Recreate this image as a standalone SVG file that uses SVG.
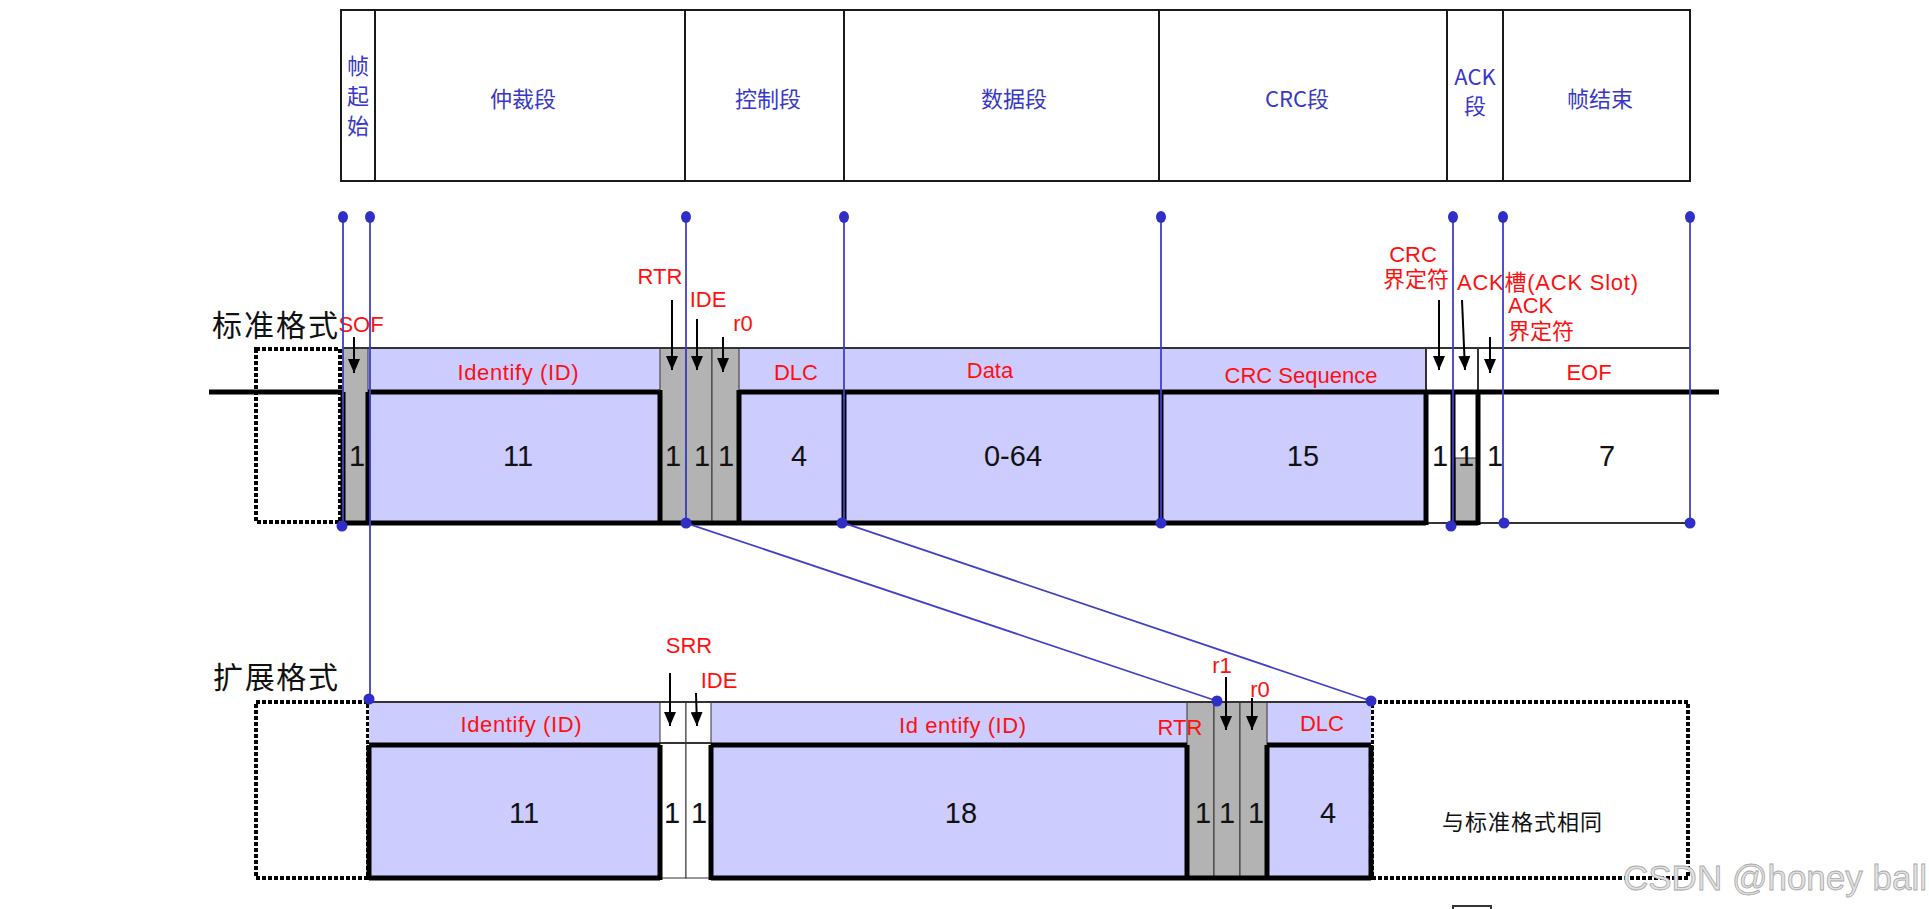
<svg xmlns="http://www.w3.org/2000/svg" width="1929" height="909" viewBox="0 0 1929 909">
<style>
.tb{fill:none;stroke:#1a1a1a;stroke-width:2}
.tt{font-family:"Noto Sans CJK SC","Liberation Sans",sans-serif;font-size:22px;fill:#3838c8;text-anchor:middle}
.lab{font-family:"Liberation Sans","Noto Sans CJK SC",sans-serif;font-size:22px;fill:#ff1010;text-anchor:middle}
.labs{font-family:"Liberation Sans","Noto Sans CJK SC",sans-serif;font-size:22px;fill:#ff1010}
.num{font-family:"Liberation Sans",Arial,sans-serif;font-size:29px;fill:#111;text-anchor:middle}
.cjk{font-family:"Noto Sans CJK SC",sans-serif;fill:#111}
.pur{fill:#ccccff;stroke:none}
.gry{fill:#b3b3b3;stroke:#333;stroke-width:1}
.wht{fill:#fff;stroke:#333;stroke-width:1}
.thk{fill:none;stroke:#000;stroke-width:5}
.thin{fill:none;stroke:#333;stroke-width:2}
.dash{fill:none;stroke:#000;stroke-width:4;stroke-dasharray:4 2}
.bl{fill:none;stroke:#4040c8;stroke-width:1.8}
.dot{fill:#2f2fc8}
.arr{stroke:#000;stroke-width:2;fill:none;marker-end:url(#ah)}
</style>
<defs>
<marker id="ah" markerWidth="14" markerHeight="12" refX="14" refY="6" orient="auto" markerUnits="userSpaceOnUse"><path d="M0,0 L14,6 L0,12 z" fill="#000"/></marker>
</defs>
<rect width="1929" height="909" fill="#fff"/>

<g id="top-bar">
<rect class="tb" x="341" y="10" width="1349" height="171"/>
<path class="tb" d="M375,10V181M685,10V181M844,10V181M1159,10V181M1447,10V181M1503,10V181"/>
<g id="seg-sof"><text class="tt" font-size="19" x="358" y="100" writing-mode="vertical-rl" letter-spacing="8">帧起始</text></g>
<g id="seg-arb"><text class="tt" x="523" y="107">仲裁段</text></g>
<g id="seg-ctl"><text class="tt" x="768" y="107">控制段</text></g>
<g id="seg-data"><text class="tt" x="1014" y="107">数据段</text></g>
<g id="seg-crc"><text class="tt" x="1297" y="107">CRC段</text></g>
<g id="seg-ack"><text class="tt" x="1475" y="85">ACK<tspan x="1475" dy="29">段</tspan></text></g>
<g id="seg-eof"><text class="tt" x="1600" y="107">帧结束</text></g>
</g>

<g id="standard-frame">
<text class="cjk" x="212" y="336" font-size="30" textLength="126">标准格式</text>
<rect class="dash" x="256" y="349" width="84" height="173"/>
<g id="std-fills">
<rect class="pur" x="368" y="348" width="292" height="175"/>
<rect class="pur" x="739" y="348" width="422" height="175"/>
<rect class="pur" x="1161" y="348" width="265" height="175"/>
<rect class="gry" x="343" y="348" width="25" height="175"/>
<rect class="gry" x="660" y="348" width="26" height="175"/>
<rect class="gry" x="686" y="348" width="26" height="175"/>
<rect class="gry" x="712" y="348" width="27" height="175"/>
<rect class="gry" x="1455" y="458" width="22" height="64"/>
</g>
<path class="thin" d="M343,348H1690M1426,348V392M1478,348V392M1426,523H1690"/>
<path class="thk" d="M209,392H343M368,392H660M739,392H1719M343,523H1426M1453,523H1478"/>
<path class="thk" d="M343,392V525M368,392V525M660,390V525M739,390V525M844,392V525M1161,392V525M1426,392V525M1453,392V525M1478,392V525"/>
<g id="std-sof"><text class="lab" font-size="17" x="361" y="332">SOF</text><line class="arr" x1="354" y1="337" x2="354" y2="373"/><text class="num" x="357" y="466">1</text></g>
<g id="std-id"><text class="lab" x="518" y="380" textLength="121">Identify (ID)</text><text class="num" x="518" y="466">11</text></g>
<g id="std-rtr"><text class="lab" x="660" y="284">RTR</text><line class="arr" x1="672" y1="300" x2="672" y2="370"/><text class="num" x="673" y="466">1</text></g>
<g id="std-ide"><text class="lab" x="708" y="307">IDE</text><line class="arr" x1="697" y1="319" x2="697" y2="370"/><text class="num" x="702" y="466">1</text></g>
<g id="std-r0"><text class="lab" x="743" y="331">r0</text><line class="arr" x1="723" y1="337" x2="723" y2="372"/><text class="num" x="726" y="466">1</text></g>
<g id="std-dlc"><text class="lab" x="796" y="380">DLC</text><text class="num" x="799" y="466">4</text></g>
<g id="std-data"><text class="lab" x="990" y="378">Data</text><text class="num" x="1013" y="466">0-64</text></g>
<g id="std-crc"><text class="lab" x="1301" y="383">CRC Sequence</text><text class="num" x="1303" y="466">15</text></g>
<g id="std-crcdel"><text class="lab" x="1413" y="262">CRC</text><text class="lab" x="1416" y="287">界定符</text><line class="arr" x1="1439" y1="300" x2="1439" y2="370"/><text class="num" x="1440" y="466">1</text></g>
<g id="std-ackslot"><text class="labs" x="1457" y="290" textLength="181">ACK槽(ACK Slot)</text><line class="arr" x1="1462" y1="300" x2="1465" y2="370"/><text class="num" x="1466" y="466">1</text></g>
<g id="std-ackdel"><text class="labs" x="1508" y="313">ACK</text><text class="labs" x="1508" y="339">界定符</text><line class="arr" x1="1490" y1="337" x2="1490" y2="373"/><text class="num" x="1495" y="466">1</text></g>
<g id="std-eof"><text class="lab" x="1589" y="380">EOF</text><text class="num" x="1607" y="466">7</text></g>
</g>

<g id="extended-frame">
<text class="cjk" x="213" y="688" font-size="30" textLength="125">扩展格式</text>
<rect class="dash" x="256" y="702" width="112" height="176"/>
<rect class="dash" x="1372" y="702" width="316" height="176"/>
<g id="ext-fills">
<rect class="pur" x="369" y="702" width="291" height="176"/>
<rect class="pur" x="711" y="702" width="476" height="176"/>
<rect class="pur" x="1267" y="702" width="104" height="176"/>
<rect class="wht" x="660" y="702" width="26" height="176"/>
<rect class="wht" x="686" y="702" width="25" height="176"/>
<rect class="gry" x="1187" y="702" width="27" height="176"/>
<rect class="gry" x="1214" y="702" width="26" height="176"/>
<rect class="gry" x="1240" y="702" width="27" height="176"/>
</g>
<path class="thin" d="M369,702H1371M660,743H711"/>
<path class="thk" d="M369,745H660M711,745H1187M1267,745H1371M369,878H660M711,878H1371"/>
<path class="thk" d="M369,745V880M660,745V880M711,745V880M1187,745V880M1267,745V880M1371,745V880"/>
<g id="ext-id"><text class="lab" x="521" y="732" textLength="121">Identify (ID)</text><text class="num" x="524" y="823">11</text></g>
<g id="ext-srr"><text class="lab" x="689" y="653">SRR</text><line class="arr" x1="670" y1="673" x2="670" y2="726"/><text class="num" x="672" y="823">1</text></g>
<g id="ext-ide"><text class="lab" x="719" y="688">IDE</text><line class="arr" x1="696" y1="693" x2="697" y2="726"/><text class="num" x="699" y="823">1</text></g>
<g id="ext-id2"><text class="labs" x="899" y="733" textLength="127">Id entify (ID)</text><text class="num" x="961" y="823">18</text></g>
<g id="ext-rtr"><text class="lab" x="1180" y="735" text-anchor="middle">RTR</text><text class="num" x="1203" y="823">1</text></g>
<g id="ext-r1"><text class="lab" x="1222" y="673">r1</text><line class="arr" x1="1226" y1="677" x2="1226" y2="730"/><text class="num" x="1227" y="823">1</text></g>
<g id="ext-r0"><text class="lab" x="1260" y="697">r0</text><line class="arr" x1="1252" y1="698" x2="1252" y2="730"/><text class="num" x="1256" y="823">1</text></g>
<g id="ext-dlc"><text class="lab" x="1322" y="731">DLC</text><text class="num" x="1328" y="823">4</text></g>
<g id="ext-rest"><text class="cjk" x="1522" y="830" font-size="22" text-anchor="middle" textLength="160">与标准格式相同</text></g>
</g>

<g id="connectors">
<path class="bl" d="M343,217V523M370,217V700M686,217V523L1217,701M844,217V523L1371,701M1161,217V523M1453,217V525M1503,217V523M1690,217V523"/>
<g class="dot">
<ellipse cx="343" cy="217" rx="5" ry="6"/><ellipse cx="370" cy="217" rx="5" ry="6"/><ellipse cx="686" cy="217" rx="5" ry="6"/><ellipse cx="844" cy="217" rx="5" ry="6"/><ellipse cx="1161" cy="217" rx="5" ry="6"/><ellipse cx="1453" cy="217" rx="5" ry="6"/><ellipse cx="1503" cy="217" rx="5" ry="6"/><ellipse cx="1690" cy="217" rx="5" ry="6"/>
<circle cx="342" cy="526" r="5.5"/><circle cx="686" cy="523" r="5.5"/><circle cx="842" cy="523" r="5.5"/><circle cx="1161" cy="523" r="5.5"/><circle cx="1451" cy="526" r="5.5"/><circle cx="1504" cy="523" r="5.5"/><circle cx="1690" cy="523" r="5.5"/>
<circle cx="369" cy="699" r="5.5"/><circle cx="1217" cy="701" r="5.5"/><circle cx="1371" cy="701" r="5.5"/>
</g>
</g>

<path d="M1453,909V906H1491V909" fill="none" stroke="#333" stroke-width="2"/>
<text x="1623" y="890" font-family="Liberation Sans,Arial,sans-serif" font-size="35" fill="#e2e2e2" stroke="#a8a8a8" stroke-width="0.8">CSDN @honey ball</text>
</svg>
